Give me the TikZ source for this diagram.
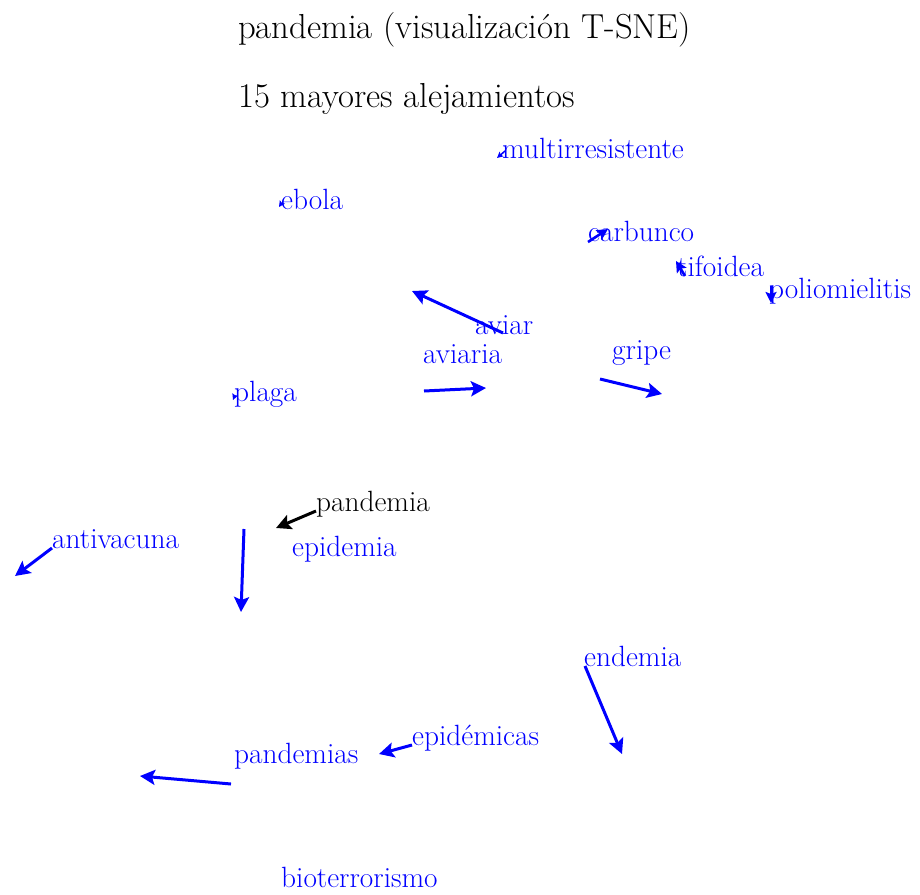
\documentclass[tikz,border=0pt]{standalone}
\usetikzlibrary{arrows.meta}
\begin{document}
\begin{tikzpicture}[x=1pt,y=-1pt,
  heading/.style={anchor=base west,inner sep=0pt,font=\fontsize{34.7}{38}\selectfont,text=black},
  word/.style={anchor=base west,inner sep=0pt,font=\fontsize{29.3}{32}\selectfont,text=blue},
  query/.style={word,text=black},
  moveline/.style={draw=blue,line width=3pt,-{Stealth[length=15pt,width=15pt,inset=3pt]}},
  smallmove/.style={draw=blue,line width=2.6pt,-{Stealth[length=11pt,width=11pt,inset=2pt]}},
  tinymove/.style={draw=blue,line width=1.5pt,-{Stealth[length=6pt,width=6pt,inset=1pt]}},
  querymove/.style={moveline,draw=black}]
\useasboundingbox (0,0) rectangle (920,894);

% headings
\node[heading] (t1) at (238,38) {pandemia (visualización T-SNE)};
\node[heading] (t2) at (238,107) {15 mayores alejamientos};

% word labels
\node[word] (multi) at (502,158) {multirresistente};
\node[word] (ebola) at (281,209) {ebola};
\node[word] (carb) at (588,241) {carbunco};
\node[word] (tifo) at (677,276) {tifoidea};
\node[word] (polio) at (769,298) {poliomielitis};
\node[word] (aviar) at (475,334) {aviar};
\node[word] (aviaria) at (423,363) {aviaria};
\node[word] (gripe) at (612,359) {gripe};
\node[word] (plaga) at (234,401) {plaga};
\node[query] (pand) at (316,511) {pandemia};
\node[word] (epid) at (292,556) {epidemia};
\node[word] (antiv) at (52,548) {antivacuna};
\node[word] (endem) at (584,666) {endemia};
\node[word] (epidm) at (412,745) {epidémicas};
\node[word] (pands) at (234,763) {pandemias};
\node[word] (bioter) at (281,887) {bioterrorismo};

% displacement end points
\coordinate (multiA) at (505,151);  \coordinate (multiB) at (497,158);
\coordinate (ebolaA) at (281,204);  \coordinate (ebolaB) at (279,207);
\coordinate (carbA) at (588,242);   \coordinate (carbB) at (608,229);
\coordinate (tifoA) at (685,276);   \coordinate (tifoB) at (676,261);
\coordinate (polioA) at (771,286);  \coordinate (polioB) at (771,303);
\coordinate (aviarA) at (503,333);  \coordinate (aviarB) at (412,291);
\coordinate (aviariaA) at (424,391);\coordinate (aviariaB) at (486,388);
\coordinate (gripeA) at (600,379);  \coordinate (gripeB) at (662,394);
\coordinate (plagaA) at (235,395);  \coordinate (plagaB) at (233,400);
\coordinate (pandA) at (316,511);   \coordinate (pandB) at (276,528);
\coordinate (epidA) at (244,529);   \coordinate (epidB) at (241,612);
\coordinate (antivA) at (52,548);   \coordinate (antivB) at (15,576);
\coordinate (endemA) at (585,666);  \coordinate (endemB) at (622,754);
\coordinate (epidmA) at (412,745);  \coordinate (epidmB) at (379,754);
\coordinate (pandsA) at (231,784);  \coordinate (pandsB) at (140,776);

% displacements
\draw[tinymove] (multiA) -- (multiB);
\draw[tinymove] (ebolaA) -- (ebolaB);
\draw[smallmove] (carbA) -- (carbB);
\draw[smallmove] (tifoA) -- (tifoB);
\draw[smallmove] (polioA) -- (polioB);
\draw[moveline] (aviarA) -- (aviarB);
\draw[moveline] (aviariaA) -- (aviariaB);
\draw[moveline] (gripeA) -- (gripeB);
\draw[tinymove] (plagaA) -- (plagaB);
\draw[querymove] (pandA) -- (pandB);
\draw[moveline] (epidA) -- (epidB);
\draw[moveline] (antivA) -- (antivB);
\draw[moveline] (endemA) -- (endemB);
\draw[moveline] (epidmA) -- (epidmB);
\draw[moveline] (pandsA) -- (pandsB);
\end{tikzpicture}
\end{document}
